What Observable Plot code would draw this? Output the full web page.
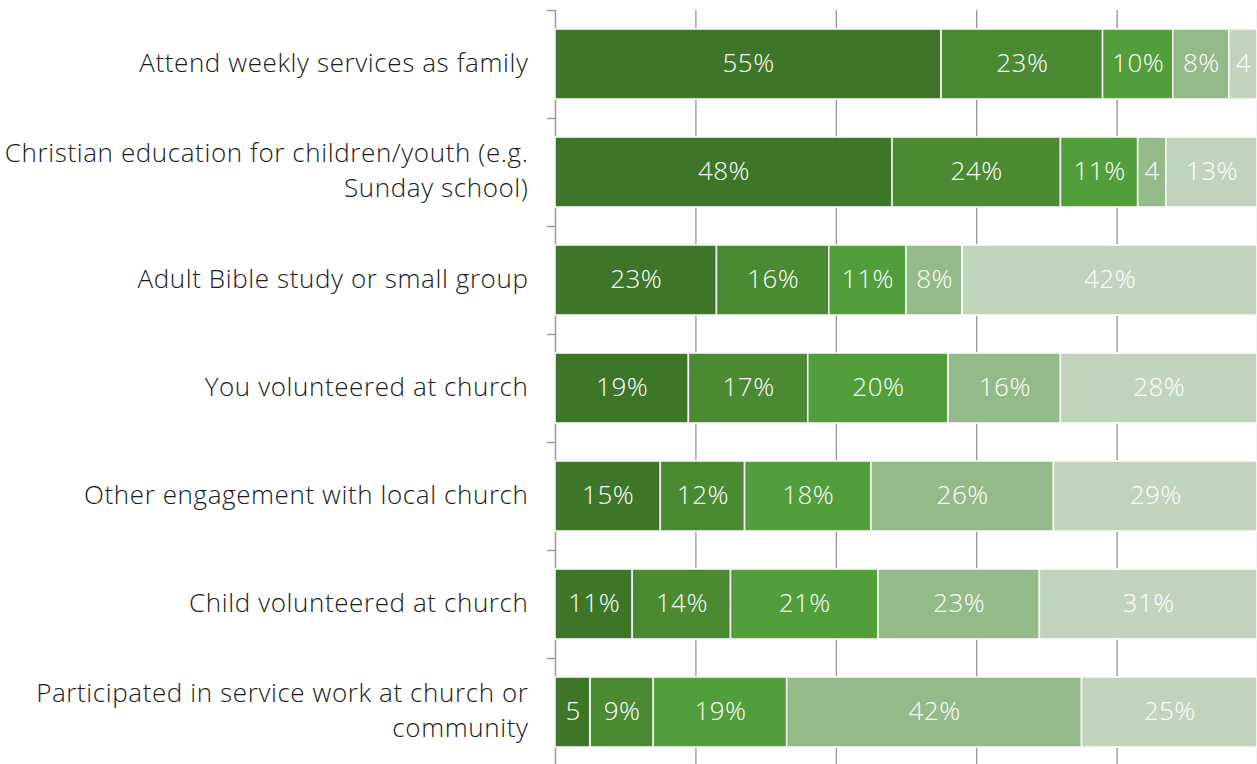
<!DOCTYPE html>
<html>
<head>
<meta charset="utf-8">
<script src="https://cdn.jsdelivr.net/npm/d3@7"></script>
<script src="https://cdn.jsdelivr.net/npm/@observablehq/plot@0.6"></script>
<style>
  html, body { margin: 0; padding: 0; background: #fff; overflow: hidden; }
  #chart svg { display: block; }
  #chart g[aria-label="y-axis tick label"] text { letter-spacing: 0.6px; }
  #chart g[aria-label="text"] text { letter-spacing: 0.5px; }
</style>
</head>
<body>
<div id="chart"></div>
<script>
const categories = [
  "Attend weekly services as family",
  "Christian education for children/youth (e.g. Sunday school)",
  "Adult Bible study or small group",
  "You volunteered at church",
  "Other engagement with local church",
  "Child volunteered at church",
  "Participated in service work at church or community"
];
const categoryLabels = [
  "Attend weekly services as family",
  "Christian education for children/youth (e.g.\nSunday school)",
  "Adult Bible study or small group",
  "You volunteered at church",
  "Other engagement with local church",
  "Child volunteered at church",
  "Participated in service work at church or\ncommunity"
];
const levels = ["L1", "L2", "L3", "L4", "L5"];
const level1 = [55, 48, 23, 19, 15, 11, 5];
const level2 = [23, 24, 16, 17, 12, 14, 9];
const level3 = [10, 11, 11, 20, 18, 21, 19];
const level4 = [8, 4, 8, 16, 26, 23, 42];
const level5 = [4, 13, 42, 28, 29, 31, 25];
const colors = ["#3d7629", "#498a32", "#529e3b", "#94ba89", "#bfd4ba"];
const gridTicks = [20, 40, 60, 80, 100];

const series = [level1, level2, level3, level4, level5];
const data = [];
categories.forEach((c, i) => {
  series.forEach((s, j) => data.push({category: c, level: levels[j], value: s[i]}));
});
const labelOf = new Map(categories.map((c, i) => [c, categoryLabels[i]]));
const fmt = v => v <= 5 ? String(v) : v + "%";
const font = "'Open Sans', 'Noto Sans', sans-serif";

const chart = Plot.plot({
  width: 1257,
  height: 776,
  marginTop: 10,
  marginBottom: 10,
  marginLeft: 555,
  marginRight: 0,
  style: {fontFamily: font, background: "#fff"},
  x: {domain: [0, 100], axis: null},
  y: {domain: categories, paddingInner: 0.352, paddingOuter: 0.176, label: null},
  color: {domain: levels, range: colors},
  marks: [
    Plot.gridX({ticks: gridTicks, stroke: "#8c8c8c", strokeOpacity: 1, strokeWidth: 1.2}),
    Plot.ruleX([0], {stroke: "#999", strokeWidth: 1.5}),
    Plot.axisY({tickSize: 8, dy: -54, tickFormat: () => "", stroke: "#999", strokeWidth: 1.5}),
    Plot.axisY({tickSize: 0, tickPadding: 27, dy: -4, tickFormat: d => labelOf.get(d), fontSize: 26, fontWeight: 300, fill: "#1a1a1a", lineHeight: 1.36, label: null}),
    Plot.barX(data, Plot.stackX({x: "value", y: "category", fill: "level", stroke: "white", strokeWidth: 1.5})),
    Plot.text(data, Plot.stackX({x: "value", y: "category", z: "level", text: d => fmt(d.value), fill: "white", fontSize: 26, fontWeight: 300, dy: -1}))
  ]
});
document.getElementById("chart").append(chart);
</script>
</body>
</html>
